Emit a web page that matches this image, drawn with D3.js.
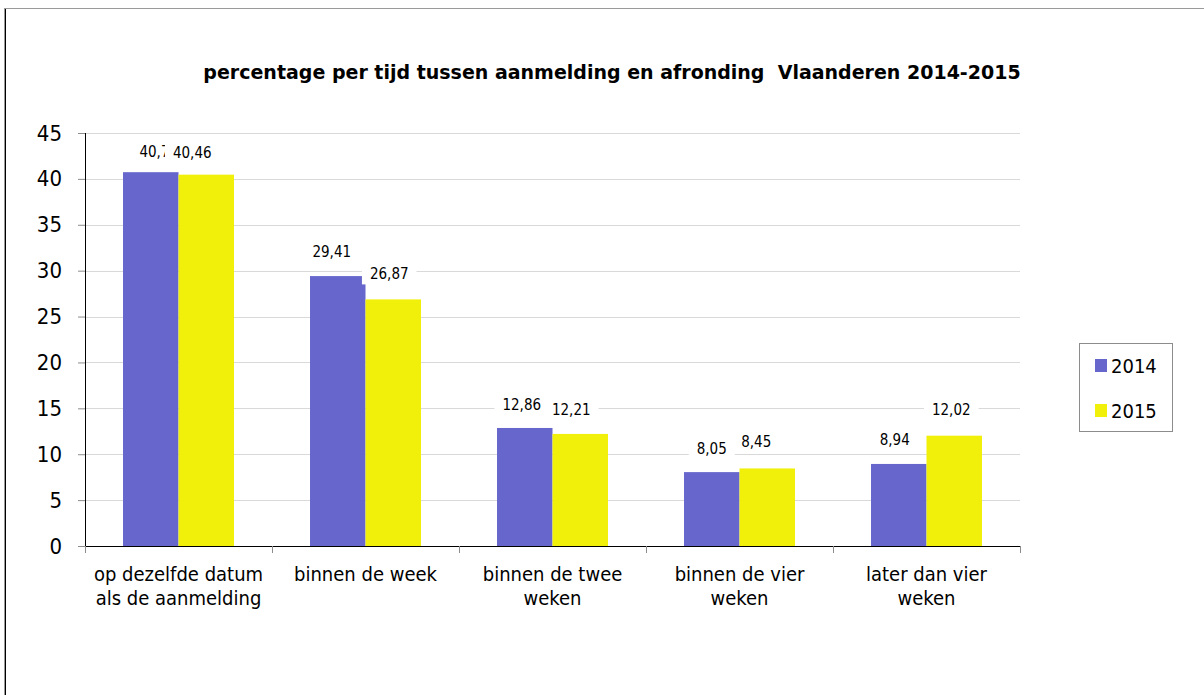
<!DOCTYPE html>
<html>
<head>
<meta charset="utf-8">
<script src="https://cdn.jsdelivr.net/npm/d3@7"></script>
<style>
  html, body { margin: 0; padding: 0; background: #fff; }
  svg { display: block; }
  text { font-family: "DejaVu Sans Condensed", "DejaVu Sans", sans-serif; fill: #000; }
</style>
</head>
<body>
<svg id="chart" width="1204" height="695"></svg>
<script>
// ---- data ----
const title = "percentage per tijd tussen aanmelding en afronding  Vlaanderen 2014-2015";
const categories = [
  ["op dezelfde datum", "als de aanmelding"],
  ["binnen de week"],
  ["binnen de twee", "weken"],
  ["binnen de vier", "weken"],
  ["later dan vier", "weken"]
];
const seriesNames = ["2014", "2015"];
const values2014 = [40.73, 29.41, 12.86, 8.05, 8.94];
const values2015 = [40.46, 26.87, 12.21, 8.45, 12.02];
const yTicks = [0, 5, 10, 15, 20, 25, 30, 35, 40, 45];

// ---- layout / style ----
const colors = { "2014": "#6666cc", "2015": "#f0f00a" };
const plot = { left: 85, right: 1020, top: 133, bottom: 546 };
// label nudges [dx, dy] relative to bar centre / top (mimics Excel's placement)
const labelNudge = {
  "2014": [[8, -21], [-6, -24], [-3, -23], [0, -24], [-4, -24]],
  "2015": [[-14, -22], [-4, -26], [-9, -24], [-11, -27], [-3, -26]]
};

const svg = d3.select("#chart");
const seriesValues = { "2014": values2014, "2015": values2015 };
const catKeys = categories.map(c => c.join(" "));

// outer frame
svg.append("rect").attr("x", 4.5).attr("y", 8.5).attr("width", 1210).attr("height", 700)
  .attr("fill", "none").attr("stroke", "#9a9a9a").attr("stroke-width", 1);
svg.append("line").attr("x1", 5.5).attr("x2", 5.5).attr("y1", 9).attr("y2", 695)
  .attr("stroke", "#000").attr("stroke-width", 1);

const x0 = d3.scaleBand().domain(catKeys).range([plot.left, plot.right]).paddingInner(0).paddingOuter(0);
const x1 = d3.scaleBand().domain(seriesNames).range([0, x0.bandwidth()]).paddingInner(0).paddingOuter(0.685);
const y = d3.scaleLinear().domain([0, 45]).range([plot.bottom, plot.top]);

// gridlines
svg.append("g").selectAll("line").data(yTicks.filter(t => t > 0)).join("line")
  .attr("x1", plot.left).attr("x2", plot.right)
  .attr("y1", d => Math.round(y(d)) + 0.5).attr("y2", d => Math.round(y(d)) + 0.5)
  .attr("stroke", "#d9d9d9").attr("stroke-width", 1);

// title
svg.append("text").attr("x", 612).attr("y", 79).attr("text-anchor", "middle")
  .attr("xml:space", "preserve").style("white-space", "pre")
  .style("font-family", "'DejaVu Sans', sans-serif")
  .style("font-size", "19px").style("font-weight", "bold").text(title);

// bars
const groups = svg.append("g").selectAll("g").data(catKeys).join("g")
  .attr("transform", d => `translate(${x0(d)},0)`);
groups.selectAll("rect").data((d, i) => seriesNames.map(s => ({ s, v: seriesValues[s][i] }))).join("rect")
  .attr("x", d => x1(d.s)).attr("width", x1.bandwidth())
  .attr("y", d => y(d.v)).attr("height", d => y(0) - y(d.v))
  .attr("fill", d => colors[d.s]);

// y axis
const yAxis = svg.append("g").attr("transform", `translate(${plot.left},0)`)
  .call(d3.axisLeft(y).tickValues(yTicks).tickSize(7).tickPadding(16).tickFormat(d3.format("d")));
yAxis.select(".domain").attr("stroke", "#000").attr("d", `M0.5,${plot.top}V${plot.bottom}`);
yAxis.selectAll(".tick line").attr("stroke", "#8c8c8c");
yAxis.selectAll(".tick text").style("font-size", "22px").attr("fill", "#000");

// x axis
const xAxisG = svg.append("g");
xAxisG.append("line").attr("x1", plot.left).attr("x2", plot.right)
  .attr("y1", plot.bottom + 0.5).attr("y2", plot.bottom + 0.5).attr("stroke", "#000");
const boundaries = catKeys.map(k => x0(k)).concat([plot.right]);
xAxisG.selectAll("line.tk").data(boundaries).join("line").attr("class", "tk")
  .attr("x1", d => Math.round(d) + 0.5).attr("x2", d => Math.round(d) + 0.5)
  .attr("y1", plot.bottom).attr("y2", plot.bottom + 7).attr("stroke", "#8c8c8c");
const catLabels = xAxisG.selectAll("text").data(categories).join("text")
  .attr("text-anchor", "middle")
  .attr("transform", (d, i) => `translate(${x0(catKeys[i]) + x0.bandwidth() / 2},0)`)
  .style("font-size", "20px");
catLabels.selectAll("tspan").data(d => d).join("tspan")
  .attr("x", 0).attr("y", (d, j) => 581 + j * 24).text(d => d);

// data labels (2014 first, 2015 after so its white box covers overlap)
const fmt = v => d3.format(".2f")(v).replace(".", ",");
const labelLayer = svg.append("g");
catKeys.forEach((k, i) => {
  seriesNames.forEach(s => {
    const v = seriesValues[s][i];
    const [dx, dy] = labelNudge[s][i];
    const cx = x0(k) + x1(s) + x1.bandwidth() / 2 + dx;
    const cy = y(v) + dy;
    const g = labelLayer.append("g").attr("transform", `translate(${cx},${cy})`);
    const t = g.append("text").attr("text-anchor", "middle").attr("dy", "0.36em")
      .style("font-size", "15px").text(fmt(v));
    const w = t.node().getComputedTextLength();
    g.insert("rect", "text").attr("x", -w / 2 - 8).attr("y", -11).attr("width", w + 16).attr("height", 22)
      .attr("fill", "#fff");
  });
});

// legend
const lg = svg.append("g");
lg.append("rect").attr("x", 1079.5).attr("y", 343.5).attr("width", 93).attr("height", 88)
  .attr("fill", "#fff").attr("stroke", "#8c8c8c");
seriesNames.forEach((s, i) => {
  lg.append("rect").attr("x", 1095).attr("y", 359 + i * 45).attr("width", 12).attr("height", 13)
    .attr("fill", colors[s]);
  lg.append("text").attr("x", 1111).attr("y", 373 + i * 45).style("font-size", "20px").text(s);
});
</script>
</body>
</html>
